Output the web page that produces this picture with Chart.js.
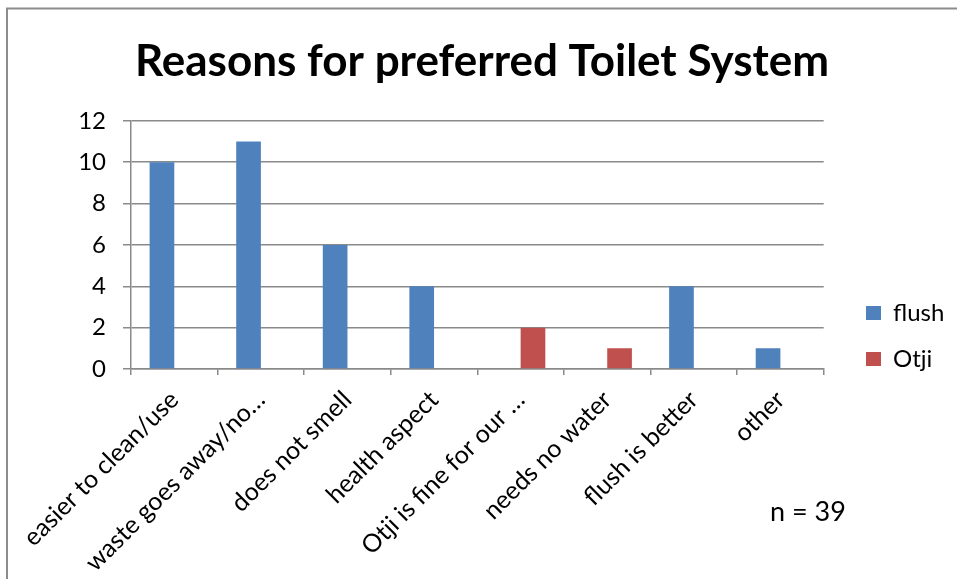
<!DOCTYPE html>
<html>
<head>
<meta charset="utf-8">
<script src="https://cdn.jsdelivr.net/npm/chart.js@4.4.1/dist/chart.umd.min.js"></script>
<style>
  html, body { margin: 0; padding: 0; background: #fff; }
  canvas { display: block; }
</style>
</head>
<body>
<canvas id="chart" width="957" height="579"></canvas>
<script>
/* dados do gráfico */
const categories = [
  "easier to clean/use",
  "waste goes away/no\u2026",
  "does not smell",
  "health aspect",
  "Otji is fine for our \u2026",
  "needs no water",
  "flush is better",
  "other"
];
const flushValues = [10, 11, 6, 4, null, null, 4, 1];
const otjiValues = [null, null, null, null, 2, 1, null, null];
const seriesNames = ["flush", "Otji"];
const yTicks = [0, 2, 4, 6, 8, 10, 12];
const titleText = "Reasons for preferred Toilet System";
const noteText = "n = 39";

const FONT = "Lato, 'Open Sans', sans-serif";
const GRID = "#8a8a8a";

/* borda, nota e posição da legenda */
const extras = {
  id: "extras",
  afterLayout(chart) {
    const lg = chart.legend;
    const w = lg.width, h = lg.height;
    lg.left = 844; lg.right = lg.left + w;
    lg.top = 279; lg.bottom = lg.top + h;
  },
  beforeDraw(chart) {
    const ctx = chart.ctx;
    ctx.save();
    ctx.fillStyle = "#fff";
    ctx.fillRect(0, 0, chart.width, chart.height);
    ctx.restore();
  },
  afterDraw(chart) {
    const ctx = chart.ctx;
    ctx.save();
    ctx.strokeStyle = "#8c8c8c";
    ctx.lineWidth = 2;
    ctx.beginPath();
    ctx.moveTo(7, chart.height);
    ctx.lineTo(7, 8.5);
    ctx.lineTo(chart.width, 8.5);
    ctx.stroke();
    ctx.fillStyle = "#000";
    ctx.font = "27px " + FONT;
    ctx.textBaseline = "alphabetic";
    ctx.fillText(noteText, 770, 521);
    ctx.restore();
  }
};

const data = {
  labels: categories,
  datasets: [
    { label: seriesNames[0], data: flushValues, backgroundColor: "#4f81bd" },
    { label: seriesNames[1], data: otjiValues, backgroundColor: "#c0504d" }
  ]
};

const config = {
  type: "bar",
  data: data,
  options: {
    responsive: false,
    animation: false,
    devicePixelRatio: 1,
    layout: { padding: { top: 0, left: 30, right: 23, bottom: 0 } },
    datasets: {
      bar: { barPercentage: 1, categoryPercentage: 0.57, borderWidth: 0 }
    },
    scales: {
      x: {
        grid: { display: true, drawOnChartArea: false, color: GRID, lineWidth: 1.5, tickLength: 6, offset: true },
        border: { color: GRID, width: 1.5 },
        ticks: { color: "#000", font: { family: FONT, size: 25 }, maxRotation: 45, minRotation: 45, autoSkip: false, padding: 10 },
        afterFit(scale) { scale.height = 210; }
      },
      y: {
        min: 0,
        max: 12,
        grid: { color: GRID, lineWidth: 1.5, tickLength: 8 },
        border: { color: GRID, width: 1.5 },
        afterBuildTicks(scale) { scale.ticks = yTicks.map(v => ({ value: v })); },
        ticks: { color: "#000", font: { family: FONT, size: 24 }, padding: 17 },
        afterFit(scale) { scale.width = 101; }
      }
    },
    plugins: {
      title: {
        display: true,
        text: titleText,
        color: "#000",
        font: { family: FONT, size: 44, weight: "bold", lineHeight: 1.2 },
        padding: { top: 35, bottom: 33 }
      },
      legend: {
        position: "right",
        align: "start",
        labels: { color: "#000", font: { family: FONT, size: 24 }, boxWidth: 15, boxHeight: 14, padding: 22 }
      },
      tooltip: { enabled: false }
    }
  },
  plugins: [extras]
};

let myChart = new Chart(document.getElementById("chart"), config);
</script>
</body>
</html>
